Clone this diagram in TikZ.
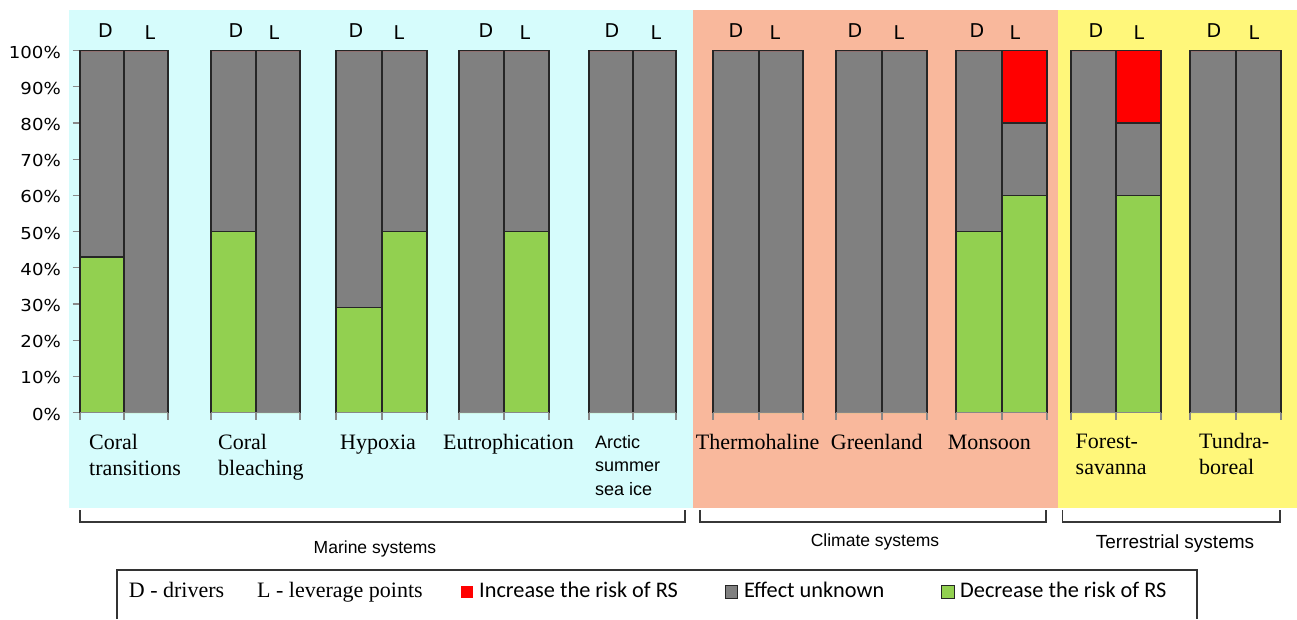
\documentclass[tikz,border=0pt]{standalone}
\usepackage{fontspec}
\setmainfont{Liberation Serif}
\newfontfamily\dejafont{DejaVu Sans}
\newfontfamily\dejawide[FakeStretch=1.1]{DejaVu Sans}
\newfontfamily\arialfont{Liberation Sans}
\newfontfamily\calfont{Carlito}
\definecolor{bgcyan}{RGB}{214,252,252}
\definecolor{bgsalmon}{RGB}{249,184,156}
\definecolor{bgyellow}{RGB}{255,247,122}
\definecolor{bargray}{RGB}{128,128,128}
\definecolor{bargreen}{RGB}{146,208,80}
\definecolor{barred}{RGB}{255,0,0}
\definecolor{axisgray}{RGB}{136,136,136}
\definecolor{brk}{RGB}{55,55,55}
\tikzset{
  barline/.style={draw=black!85, line width=1.4pt},
  axisline/.style={draw=axisgray, line width=1.2pt},
  bracketline/.style={draw=brk, line width=1.8pt},
  dl/.style={anchor=base, inner sep=0pt, font=\dejafont\fontsize{19}{22}\selectfont},
  ylab/.style={anchor=east, inner sep=0pt, font=\dejawide\fontsize{16.5}{19}\selectfont},
  catlab/.style={anchor=base west, align=left, inner sep=0pt, font=\fontsize{22}{26}\selectfont},
  arclab/.style={anchor=base west, align=left, inner sep=0pt, font=\arialfont\fontsize{18}{23.5}\selectfont},
  grplab/.style={anchor=base, inner sep=0pt, font=\arialfont\fontsize{17.5}{20}\selectfont},
  legserif/.style={anchor=base west, inner sep=0pt, font=\fontsize{22}{24}\selectfont},
  legsans/.style={anchor=base west, inner sep=0pt, font=\calfont\fontsize{22.3}{24}\selectfont},
  legsq/.style={minimum size=12.5pt, inner sep=0pt, draw=black!85, line width=1pt}
}
\newcommand\rsbar[4]{%
  \pgfmathsetmacro\yg{412.5-3.62*#3}%
  \pgfmathsetmacro\yr{412.5-3.62*#4}%
  \fill[bargreen] (#1,412.5) rectangle (#2,\yg);
  \fill[bargray] (#1,\yg) rectangle (#2,\yr);
  \fill[barred] (#1,\yr) rectangle (#2,50.5);
  \draw[barline] (#1,\yg) -- (#2,\yg);
  \draw[barline] (#1,\yr) -- (#2,\yr);
  \draw[barline] (#1,412.5) -- (#1,50.5) -- (#2,50.5) -- (#2,412.5);
}
\newcommand\rsgroup[7]{%
  \rsbar{#1}{#2}{#4}{#5}
  \rsbar{#2}{#3}{#6}{#7}
  \draw[axisline] (#1,412.5) -- (#3,412.5);
  \draw[axisline] (#1,412.5) -- (#1,420) (#2,412.5) -- (#2,420) (#3,412.5) -- (#3,420);
}
\begin{document}
\begin{tikzpicture}[x=1pt,y=-1pt]
\useasboundingbox (0,0) rectangle (1297,619);
% backgrounds
\fill[bgcyan] (69,10) rectangle (692.7,508);
\fill[bgsalmon] (692.7,10) rectangle (1058.3,508);
\fill[bgyellow] (1058.3,10) rectangle (1297,508);
% y axis
\foreach \p in {0,...,10}{
  \pgfmathsetmacro\yy{412.5-36.2*\p}
  \pgfmathtruncatemacro\pc{\p*10}
  \draw[axisline] (72.5,\yy) -- (80,\yy);
  \node[ylab] (ylab\p) at (61,\yy+1.5) {\pc\%};
}
% bars
\rsgroup{80}{124}{168}{43}{100}{0}{100}
\rsgroup{211}{256}{300}{50}{100}{0}{100}
\rsgroup{336}{382}{427}{29}{100}{50}{100}
\rsgroup{459}{504}{549}{0}{100}{50}{100}
\rsgroup{589}{633}{676}{0}{100}{0}{100}
\rsgroup{713}{759}{803}{0}{100}{0}{100}
\rsgroup{836}{882}{927}{0}{100}{0}{100}
\rsgroup{956}{1002}{1047}{50}{100}{60}{80}
\rsgroup{1071}{1116}{1161}{0}{100}{60}{80}
\rsgroup{1190}{1236}{1281}{0}{100}{0}{100}
% D / L labels
\foreach \i/\dx/\lx in {1/105.5/150,2/236/274,3/356/399,4/486/525,5/612/656,6/736/775,7/855/899,8/977/1015,9/1096/1139,10/1214/1254}{
  \node[dl] (d\i) at (\dx,37.5) {D};
  \node[dl] (l\i) at (\lx,39) {L};
}
% category labels (base anchor = baseline of last line)
\node[catlab] (c1) at (89,475) {Coral\\transitions};
\node[catlab] (c2) at (218,475) {Coral\\bleaching};
\node[catlab] (c3) at (340,449) {Hypoxia};
\node[catlab] (c4) at (443,449) {Eutrophication};
\node[arclab] (c5) at (595,495.3) {Arctic\\summer\\sea ice};
\node[catlab] (c6) at (695.7,449) {Thermohaline};
\node[catlab] (c7) at (830.7,449) {Greenland};
\node[catlab] (c8) at (947.6,449) {Monsoon};
\node[catlab] (c9) at (1075.5,474) {Forest-\\savanna};
\node[catlab] (c10) at (1199,474) {Tundra-\\boreal};
% brackets
\draw[bracketline] (80,510) -- (80,522) -- (685,522) -- (685,510);
\draw[bracketline] (699.7,510) -- (699.7,522) -- (1046,522) -- (1046,510);
\draw[bracketline] (1062.5,510) -- (1062.5,522) -- (1280,522) -- (1280,510);
\node[grplab] (marine) at (375,553) {Marine systems};
\node[grplab] (climate) at (875,546) {Climate systems};
\node[grplab, font=\arialfont\fontsize{19}{21}\selectfont] (terr) at (1175,548) {Terrestrial systems};
% legend
\draw[draw=black!80, line width=1.3pt] (117,619) -- (117,570) -- (1197,570) -- (1197,619);
\node[legserif] (ldrv) at (128.7,597) {D - drivers};
\node[legserif] (llev) at (257,597) {L - leverage points};
\node[legsq, fill=barred, draw=none] (sqr) at (466.8,592) {};
\node[legsans] (linc) at (479,597) {Increase the risk of RS};
\node[legsq, fill=bargray] (sqg) at (731.5,592) {};
\node[legsans] (lunk) at (743.8,597) {Effect unknown};
\node[legsq, fill=bargreen] (sqn) at (947.8,592) {};
\node[legsans] (ldec) at (960,597) {Decrease the risk of RS};
\end{tikzpicture}
\end{document}
